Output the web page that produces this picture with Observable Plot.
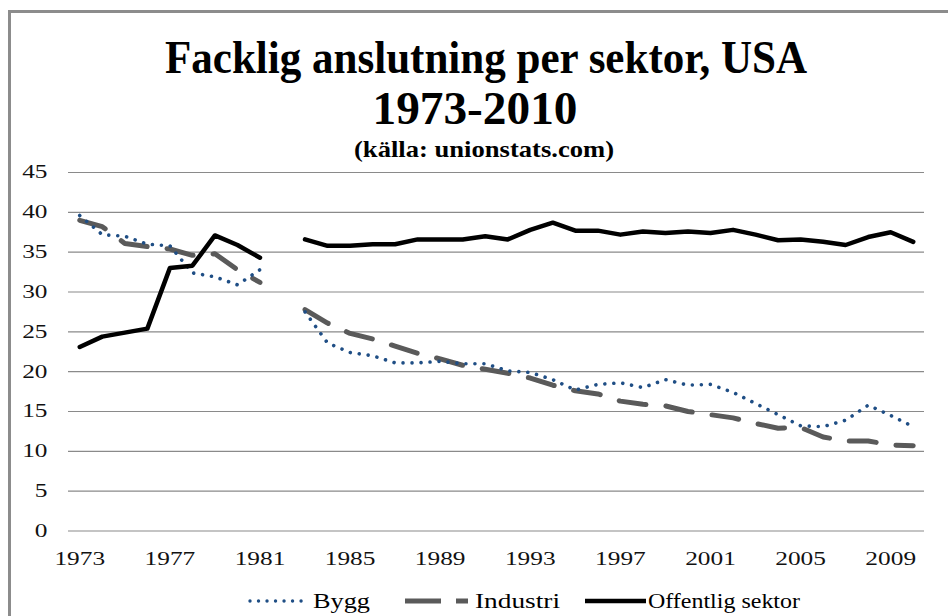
<!DOCTYPE html>
<html><head><meta charset="utf-8">
<script src="https://cdn.jsdelivr.net/npm/d3@7"></script>
<script src="https://cdn.jsdelivr.net/npm/@observablehq/plot@0.6"></script>
<style>
html,body{margin:0;padding:0;background:#fff;overflow:hidden;}
#wrap{position:relative;width:948px;height:616px;overflow:hidden;background:#fff;}
#frame{position:absolute;left:8px;top:10px;width:1000px;height:700px;border:3px solid #8c8c8c;box-sizing:border-box;}
#chart{position:absolute;left:0;top:0;}
#over{position:absolute;left:0;top:0;}
</style></head><body>
<div id="wrap"><div id="frame"></div><div id="chart"></div><svg id="over" width="948" height="616"></svg></div>
<script>
const years = [1973,1974,1975,1976,1977,1978,1979,1980,1981,1982,1983,1984,1985,1986,1987,1988,1989,1990,1991,1992,1993,1994,1995,1996,1997,1998,1999,2000,2001,2002,2003,2004,2005,2006,2007,2008,2009,2010];
const bygg = [39.6,37.2,37.0,36.0,35.8,32.4,31.9,30.9,32.8,null,27.5,23.6,22.4,22.0,21.1,21.1,21.3,21.0,21.0,20.1,19.9,19.0,17.7,18.4,18.6,18.0,19.0,18.3,18.4,17.4,16.0,14.6,13.2,13.1,13.9,15.8,14.5,13.1];
const industri = [39.0,38.2,36.1,35.7,35.4,34.6,34.8,32.8,31.2,null,27.8,26.1,24.8,24.1,23.2,22.3,21.6,20.8,20.3,19.8,19.2,18.3,17.6,17.2,16.3,15.9,15.7,15.0,14.6,14.2,13.5,12.9,13.0,11.8,11.3,11.3,10.8,10.7];
const offentlig = [23.1,24.4,24.9,25.4,33.0,33.3,37.1,35.9,34.3,null,36.6,35.8,35.8,36.0,36.0,36.6,36.6,36.6,37.0,36.6,37.8,38.7,37.7,37.7,37.2,37.6,37.4,37.6,37.4,37.8,37.2,36.5,36.6,36.3,35.9,36.9,37.5,36.3];
const seriesNames = ["Bygg","Industri","Offentlig sektor"];
const xTicks = [1973,1977,1981,1985,1989,1993,1997,2001,2005,2009];
const yTicks = [0,5,10,15,20,25,30,35,40,45];
const titleLines = ["Facklig anslutning per sektor, USA","1973-2010"];
const subtitle = "(källa: unionstats.com)";

const rows = vals => years.map((yr,i)=>({year:yr, value: vals[i] == null ? NaN : vals[i]}));

const colors = {bygg:"#1f4e85", industri:"#5a5a5a", offentlig:"#000000"};

const chart = Plot.plot({
  width:948, height:616,
  marginLeft:68, marginRight:24, marginTop:172, marginBottom:85.5,
  style:{fontFamily:"'Liberation Serif', serif", fontSize:"18.5px", color:"#111", background:"transparent", overflow:"visible"},
  x:{type:"linear", domain:[1972.5,2010.5], ticks:xTicks, tickFormat:"d", tickSize:0, tickPadding:21, label:null},
  y:{domain:[0,45], ticks:yTicks, tickSize:0, tickPadding:21, label:null},
  marks:[
    Plot.gridY(yTicks, {stroke:"#8a8a8a", strokeOpacity:1, strokeWidth:1.2}),
    Plot.lineY(rows(industri), {x:"year", y:"value", stroke:colors.industri, strokeWidth:5, strokeDasharray:"27 20", strokeLinecap:"round"}),
    Plot.lineY(rows(bygg), {x:"year", y:"value", stroke:colors.bygg, strokeWidth:3.6, strokeDasharray:"0.01 9", strokeLinecap:"round"}),
    Plot.lineY(rows(offentlig), {x:"year", y:"value", stroke:colors.offentlig, strokeWidth:4.5})
  ]
});
document.getElementById("chart").appendChild(chart);

// stretch tick labels horizontally like the reference
chart.querySelectorAll("text").forEach(t => {
  const w = t.getComputedTextLength();
  t.setAttribute("textLength", (w*1.37).toFixed(1));
  t.setAttribute("lengthAdjust","spacingAndGlyphs");
});

const NS = "http://www.w3.org/2000/svg";
const over = document.getElementById("over");
function addText(str, x, y, size, weight, anchor, targetW){
  const t = document.createElementNS(NS,"text");
  t.textContent = str;
  t.setAttribute("x",x); t.setAttribute("y",y);
  t.setAttribute("font-family","'Liberation Serif', serif");
  t.setAttribute("font-size",size);
  t.setAttribute("font-weight",weight);
  t.setAttribute("text-anchor",anchor);
  t.setAttribute("fill","#000");
  over.appendChild(t);
  if(targetW){
    t.setAttribute("textLength",targetW);
    t.setAttribute("lengthAdjust","spacingAndGlyphs");
  }
  return t;
}
function addLine(x1,x2,y,stroke,w,dash,cap){
  const l = document.createElementNS(NS,"line");
  l.setAttribute("x1",x1); l.setAttribute("x2",x2);
  l.setAttribute("y1",y); l.setAttribute("y2",y);
  l.setAttribute("stroke",stroke); l.setAttribute("stroke-width",w);
  if(dash) l.setAttribute("stroke-dasharray",dash);
  l.setAttribute("stroke-linecap",cap||"butt");
  over.appendChild(l);
}
addText(titleLines[0], 486, 73, 47, "bold", "middle", 642);
addText(titleLines[1], 475, 124, 47, "bold", "middle", 205);
addText(subtitle, 484, 157, 23, "bold", "middle", 260);

// legend
const ly = 601;
addLine(250,308,ly,colors.bygg,3.4,"0.01 8.5","round");
addText(seriesNames[0], 313, ly+7, 21, "normal", "start", 57);
addLine(405,468,ly,colors.industri,5,"36 15","butt");
addText(seriesNames[1], 475, ly+7, 21, "normal", "start", 85);
addLine(585,646,ly,colors.offentlig,4.5,null,"butt");
addText(seriesNames[2], 648, ly+7, 21, "normal", "start", 152);
</script>
</body></html>
